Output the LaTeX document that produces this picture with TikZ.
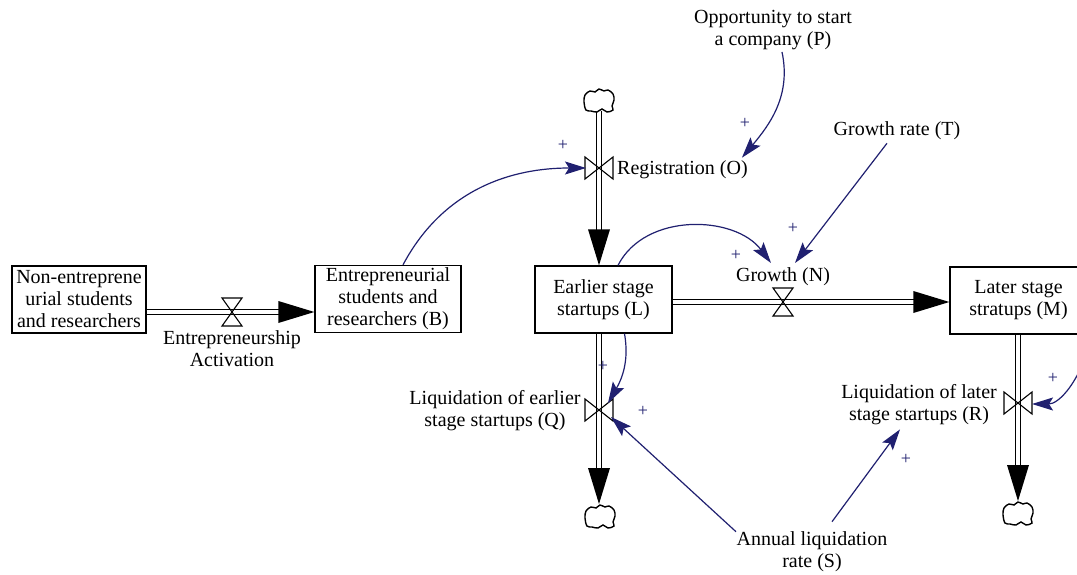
\documentclass[tikz,border=0pt]{standalone}
\usepackage{fontspec}
\setmainfont{Liberation Serif}
\usetikzlibrary{arrows.meta,calc}
\definecolor{lnk}{RGB}{32,32,112}
\begin{document}
\begin{tikzpicture}[x=1pt,y=-1pt,
  every node/.style={font=\fontsize{20}{22}\selectfont, inner sep=0pt, align=center},
  box/.style={draw, line width=1.3pt, minimum height=67pt},
  pipe/.style={draw=black, double=white, double distance=4.5pt, line width=1.2pt},
  link/.style={draw=lnk, line width=1.2pt, -{Stealth[length=21pt,width=13pt,inset=4pt]}},
  pl/.style={text=lnk, font=\fontsize{18}{18}\selectfont},
  valveh/.pic={\draw[line width=1.1pt] (-10,-14) -- (10,-14) -- (-10,14) -- (10,14) -- cycle;},
  valvev/.pic={\draw[line width=1.1pt] (-14,-11) -- (-14,11) -- (14,-11) -- (14,11) -- cycle;},
  sdcloud/.pic={\draw[line width=1.4pt, fill=white] plot[smooth cycle, tension=0.6] coordinates {(-15,1) (-14,-6) (-9,-10) (-4,-9) (0,-12) (5,-10) (9,-11) (14,-7) (15,-1) (13,5) (14,9) (8,11) (3,8) (-2,11) (-8,10) (-13,9)};},
  flowhead/.style={fill=black}
]
\useasboundingbox (0,0) rectangle (1077,575);
\fill[white] (0,0) rectangle (1077,575);
\clip (0,0) rectangle (1077,575);

% stocks
\node[box, minimum width=134pt] (NE) at (79,299.5) {Non-entreprene\\urial students\\and researchers};
\node[box, minimum width=146pt] (B) at (388,299) {Entrepreneurial\\students and\\researchers (B)};
\node[box, minimum width=137pt] (L) at (603.5,299.5) {Earlier stage\\startups (L)};
\node[box, minimum width=137pt] (M) at (1018.5,300.5) {Later stage\\stratups (M)};

% valves and clouds
\coordinate (vE) at (232,312);
\coordinate (vO) at (599,168);
\coordinate (vN) at (783,302);
\coordinate (vQ) at (599,410);
\coordinate (vR) at (1018,403);
\coordinate (cO) at (599,101);
\coordinate (cQ) at (600,517);
\coordinate (cR) at (1018,514);

% arrow tips of flows
\coordinate (tB) at (B.west |- vE);
\coordinate (tL) at (L.north -| vO);
\coordinate (tM) at (M.west |- vN);
\coordinate (tQ) at (599,504);
\coordinate (tR) at (1018,501);

% pipes
\draw[pipe] (NE.east |- vE) -- ($(tB)+(-34,0)$);
\fill[flowhead] (tB) -- ++(-36,-11) -- ++(0,22) -- cycle;
\draw[pipe] ($(cO)+(0,10)$) -- ($(tL)+(0,-34)$);
\fill[flowhead] (tL) -- ++(-11,-36) -- ++(22,0) -- cycle;
\draw[pipe] (L.east |- vN) -- ($(tM)+(-34,0)$);
\fill[flowhead] (tM) -- ++(-36,-11) -- ++(0,22) -- cycle;
\draw[pipe] (L.south -| vQ) -- ($(tQ)+(0,-34)$);
\fill[flowhead] (tQ) -- ++(-11,-36) -- ++(22,0) -- cycle;
\draw[pipe] (M.south -| vR) -- ($(tR)+(0,-34)$);
\fill[flowhead] (tR) -- ++(-11,-36) -- ++(22,0) -- cycle;

\pic at (vE) {valveh};
\pic at (vN) {valveh};
\pic at (vO) {valvev};
\pic at (vQ) {valvev};
\pic at (vR) {valvev};
\pic at (cO) {sdcloud};
\pic at (cQ) {sdcloud};
\pic at (cR) {sdcloud};

% labels
\node (EA) at (232,349) {Entrepreneurship\\Activation};
\node[anchor=west] (O) at (617,170) {Registration (O)};
\node (N) at (783,277) {Growth (N)};
\node (Q) at (495,411) {Liquidation of earlier\\stage startups (Q)};
\node (R) at (919,405) {Liquidation of later\\stage startups (R)};
\node (S) at (812,552) {Annual liquidation\\rate (S)};
\node (T) at (897,131) {Growth rate (T)};
\node (P) at (773,30) {Opportunity to start\\a company (P)};
\coordinate (edge) at (1084,360);

% links
\draw[link] ($(B.north)+(15,0)$) to[out=62,in=180] ($(vO)+(-13,0)$);
\draw[link] ($(P.south)+(9,2)$) to[out=-78,in=50] ($(O.north east)+(-6,-3)$);
\draw[link] ($(T.south)+(-10,3)$) -- ($(N)+(12,-14)$);
\draw[link] ($(L.north)+(14.5,0)$) to[out=63,in=127] ($(N)+(-12,-14)$);
\draw[link] ($(L.south)+(21,0)$) to[out=-80,in=60] ($(vQ)+(9,-7)$);
\draw[link] ($(S.north)+(-76,0)$) -- ($(vQ)+(12,7)$);
\draw[link] ($(S.north)+(20,-10)$) -- ($(R.south)+(-19,4)$);
\draw[link] (edge) to[out=-110,in=0] ($(vR)+(14,1)$);

% polarities
\node[pl] (p1) at (563,145) {+};
\node[pl] (p2) at (745,123) {+};
\node[pl] (p3) at (793,228) {+};
\node[pl] (p4) at (736,255) {+};
\node[pl] (p5) at (603,366) {+};
\node[pl] (p6) at (643,411) {+};
\node[pl] (p7) at (906,459) {+};
\node[pl] (p8) at (1053,378) {+};
\end{tikzpicture}
\end{document}
